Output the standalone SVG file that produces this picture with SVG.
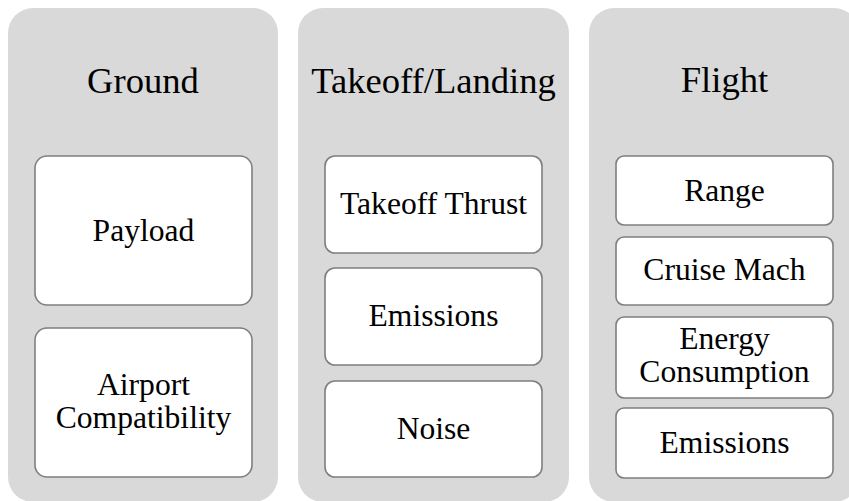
<svg xmlns="http://www.w3.org/2000/svg" width="849" height="501" viewBox="0 0 849 501">
<style>
.panel{fill:#d9d9d9;stroke:none}
.box{fill:#ffffff;stroke:#7f7f7f;stroke-width:1.6}
text{font-family:'Liberation Serif','Times New Roman',Times,'DejaVu Serif',serif;fill:#000;text-anchor:middle}
.title{font-size:36.6px}
.lbl{font-size:31.6px}
</style>
<rect width="849" height="501" fill="#ffffff"/>
<g id="panel-ground">
<rect class="panel" x="8" y="8" width="270" height="494" rx="25"/>
<text class="title" x="143" y="93">Ground</text>
</g>
<g id="panel-takeoff">
<rect class="panel" x="298" y="8" width="271" height="494" rx="25"/>
<text class="title" x="433.5" y="93">Takeoff/Landing</text>
</g>
<g id="panel-flight">
<rect class="panel" x="589" y="8" width="270" height="494" rx="25"/>
<text class="title" x="724.5" y="92">Flight</text>
</g>
<g id="connectors"></g>
<g id="payload">
<rect class="box" x="35" y="156" width="217" height="149" rx="12"/>
<text class="lbl" x="143.5" y="241">Payload</text>
</g>
<g id="airport">
<rect class="box" x="35" y="328" width="217" height="149" rx="12"/>
<text class="lbl" x="143.5" y="395">Airport</text>
<text class="lbl" x="143.5" y="428">Compatibility</text>
</g>
<g id="takeoff-thrust">
<rect class="box" x="325" y="156" width="217" height="97" rx="10"/>
<text class="lbl" x="433.5" y="214">Takeoff Thrust</text>
</g>
<g id="tl-emissions">
<rect class="box" x="325" y="268" width="217" height="97" rx="10"/>
<text class="lbl" x="433.5" y="326">Emissions</text>
</g>
<g id="noise">
<rect class="box" x="325" y="381" width="217" height="96" rx="10"/>
<text class="lbl" x="433.5" y="439">Noise</text>
</g>
<g id="range">
<rect class="box" x="616" y="156" width="217" height="69" rx="8"/>
<text class="lbl" x="724.5" y="201">Range</text>
</g>
<g id="cruise-mach">
<rect class="box" x="616" y="237" width="217" height="68" rx="8"/>
<text class="lbl" x="724.5" y="280">Cruise Mach</text>
</g>
<g id="energy">
<rect class="box" x="616" y="317" width="217" height="81" rx="8"/>
<text class="lbl" x="724.5" y="349">Energy</text>
<text class="lbl" x="724.5" y="382">Consumption</text>
</g>
<g id="fl-emissions">
<rect class="box" x="616" y="408" width="217" height="70" rx="8"/>
<text class="lbl" x="724.5" y="453">Emissions</text>
</g>
</svg>
